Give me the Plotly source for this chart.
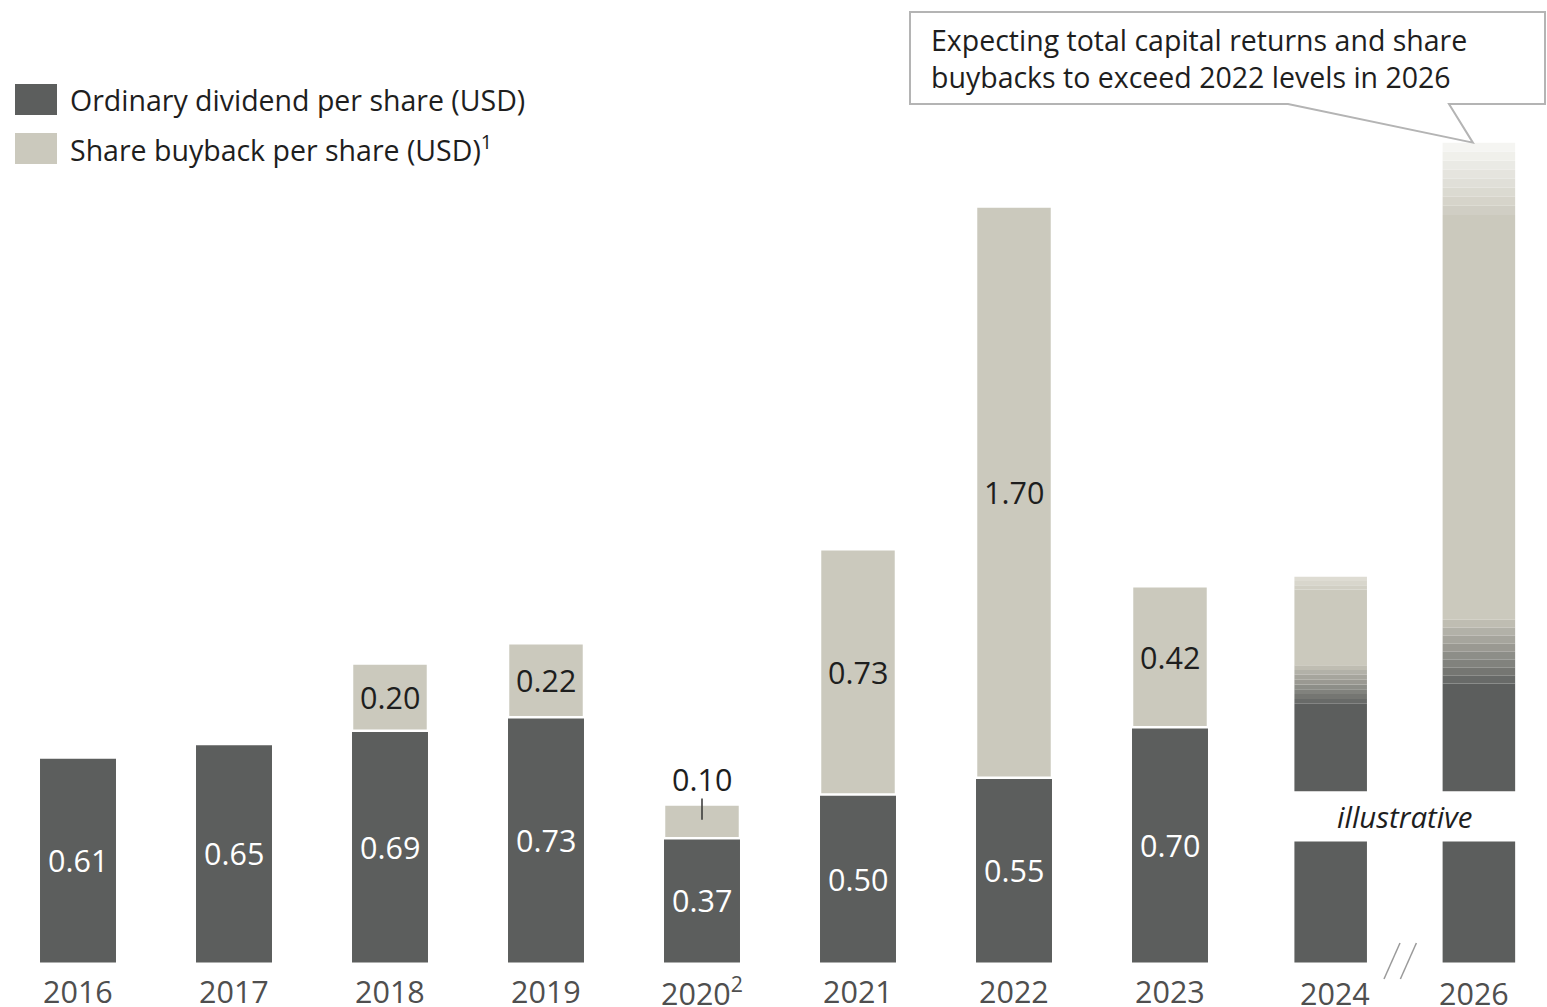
import plotly.graph_objects as go

# ---- data -------------------------------------------------------------
years = ["2016", "2017", "2018", "2019", "2020", "2021", "2022", "2023"]
year_labels = ["2016", "2017", "2018", "2019", "2020<sup>2</sup>", "2021", "2022", "2023"]
dividend = [0.61, 0.65, 0.69, 0.73, 0.37, 0.50, 0.55, 0.70]
buyback = [0.00, 0.00, 0.20, 0.22, 0.10, 0.73, 1.70, 0.42]

# illustrative outlook bars (no stated values, heights are indicative only)
illus_years = ["2024", "2026"]
illus_stub_top = [0.36, 0.36]        # part below the "illustrative" break
illus_upper_base = [0.51, 0.51]      # restart above the break
illus_dividend_top = [0.77, 0.83]
illus_blend_top = [0.885, 1.02]
illus_fade_start = [1.11, 2.225]
illus_total = [1.148, 2.44]

# ---- canvas / scale ----------------------------------------------------
W, H = 1547, 1007
X0, DX = 78.0, 156.0          # first bar centre and slot pitch (px)
BASE_PX, PPU = 962.5, 336.0   # baseline (px) and pixels per USD

DARK = "#5c5e5d"
LIGHT = "#cbc9bd"
TXT = "#1e1e1e"
YEAR_TXT = "#4f4f4f"
FONT = "Open Sans"

slots = list(range(len(years)))
illus_slots = [8.03, 8.98]
BW = 0.487
IBW = 0.465


def xd(px):
    return (px - X0) / DX


def yd(py):
    return (BASE_PX - py) / PPU


def mix(c1, c2, t):
    a = [int(c1[i:i + 2], 16) for i in (1, 3, 5)]
    b = [int(c2[i:i + 2], 16) for i in (1, 3, 5)]
    return "#%02x%02x%02x" % tuple(round(a[k] + (b[k] - a[k]) * t) for k in range(3))


fig = go.Figure()

# historical bars
fig.add_trace(go.Bar(
    x=slots, y=dividend, base=[0] * len(slots), width=BW,
    marker=dict(color=DARK, line=dict(width=0)),
    hoverinfo="skip", showlegend=False,
))
fig.add_trace(go.Bar(
    x=slots, y=buyback, base=dividend, width=BW,
    marker=dict(color=LIGHT, line=dict(color="white", width=2.5)),
    hoverinfo="skip", showlegend=False,
))

# illustrative bars built from stacked bands (dark -> light blend, top fade)
ix, ibase, iy, icol = [], [], [], []


def seg(x, b, t, c):
    ix.append(x)
    ibase.append(b)
    iy.append(t - b)
    icol.append(c)


for k, x in enumerate(illus_slots):
    seg(x, 0, illus_stub_top[k], DARK)
    seg(x, illus_upper_base[k], illus_dividend_top[k], DARK)
    nb = 8
    lo, hi = illus_dividend_top[k], illus_blend_top[k]
    for j in range(nb):
        seg(x, lo + (hi - lo) * j / nb, lo + (hi - lo) * (j + 1) / nb,
            mix(DARK, LIGHT, (j + 1) / (nb + 1)))
    seg(x, hi, illus_fade_start[k], LIGHT)
    nf = 8 if k == 1 else 3
    fend = "#f5f5f2" if k == 1 else "#dedcd3"
    lo, hi = illus_fade_start[k], illus_total[k]
    for j in range(nf):
        seg(x, lo + (hi - lo) * j / nf, lo + (hi - lo) * (j + 1) / nf,
            mix(LIGHT, fend, (j + 1) / nf))

fig.add_trace(go.Bar(
    x=ix, y=iy, base=ibase, width=IBW,
    marker=dict(color=icol, line=dict(width=0)),
    hoverinfo="skip", showlegend=False,
))

ann = []
shapes = []

# value labels
VAL_SIZE = 30.5
for i, x in enumerate(slots):
    d, b = dividend[i], buyback[i]
    ann.append(dict(x=x, y=d / 2, text=f"{d:.2f}", showarrow=False,
                    font=dict(family=FONT, size=VAL_SIZE, color="white")))
    if b <= 0:
        continue
    if b < 0.15:
        top = d + b
        ann.append(dict(x=x, y=top + 0.076, text=f"{b:.2f}", showarrow=False,
                        font=dict(family=FONT, size=VAL_SIZE, color=TXT)))
        shapes.append(dict(type="line", xref="x", yref="y", x0=x, x1=x,
                           y0=top + 0.018, y1=top - 0.045,
                           line=dict(color="#333333", width=1.5)))
    else:
        ann.append(dict(x=x, y=d + b / 2, text=f"{b:.2f}", showarrow=False,
                        font=dict(family=FONT, size=VAL_SIZE, color=TXT)))

# year labels
YEAR_SIZE = 30.5
for x, lab in zip(slots, year_labels):
    ann.append(dict(x=x, y=yd(991), text=lab, showarrow=False,
                    font=dict(family=FONT, size=YEAR_SIZE, color=YEAR_TXT)))
for x, lab in zip(illus_slots, illus_years):
    ann.append(dict(x=x + (0.03 if lab == "2024" else -0.03), y=yd(993), text=lab,
                    showarrow=False, font=dict(family=FONT, size=YEAR_SIZE, color=YEAR_TXT)))

# "illustrative" break label
ann.append(dict(x=sum(illus_slots) / 2, y=(illus_stub_top[0] + illus_upper_base[0]) / 2,
                text="<i>illustrative</i>", showarrow=False,
                font=dict(family=FONT, size=29.5, color=TXT)))

# axis-break marks between 2024 and 2026
for off in (0.0, 0.105):
    shapes.append(dict(type="line", xref="x", yref="y",
                       x0=xd(1384) + off, y0=yd(979), x1=xd(1400) + off, y1=yd(943),
                       line=dict(color="#9a9a9a", width=1.5)))

# legend
for k, (col, lab) in enumerate([(DARK, "Ordinary dividend per share (USD)"),
                                 (LIGHT, "Share buyback per share (USD)<sup>1</sup>")]):
    top = 84 + 49 * k
    shapes.append(dict(type="rect", xref="paper", yref="paper",
                       x0=15 / W, x1=57 / W, y0=1 - top / H, y1=1 - (top + 31) / H,
                       fillcolor=col, line=dict(width=0)))
    ann.append(dict(xref="paper", yref="paper", x=68 / W, y=1 - (top + 16) / H,
                    xanchor="left", yanchor="middle", text=lab, showarrow=False,
                    font=dict(family=FONT, size=28.5, color=TXT)))

# callout pointing at the top of the 2026 bar
tip_x = illus_slots[1] - 6 / DX
tip_y = illus_total[1]
pts = [(910, 12), (1545, 12), (1545, 104), (1449, 104), None, (1288, 104), (910, 104)]
path = []
for p in pts:
    if p is None:
        path.append(f"L {tip_x},{tip_y}")
    else:
        path.append(("M " if not path else "L ") + f"{xd(p[0])},{yd(p[1])}")
path.append("Z")
shapes.append(dict(type="path", xref="x", yref="y", path=" ".join(path),
                   fillcolor="white", line=dict(color="#b4b4b4", width=2)))
for txt, py in [("Expecting total capital returns and share", 40),
                ("buybacks to exceed 2022 levels in 2026", 77)]:
    ann.append(dict(x=xd(929), y=yd(py), xanchor="left", yanchor="middle",
                    text=txt, showarrow=False,
                    font=dict(family=FONT, size=28.5, color=TXT)))

fig.update_layout(
    width=W, height=H,
    margin=dict(l=0, r=0, t=0, b=0),
    paper_bgcolor="white", plot_bgcolor="white",
    barmode="overlay",
    xaxis=dict(range=[xd(0), xd(W)], visible=False, fixedrange=True),
    yaxis=dict(range=[yd(H), yd(0)], visible=False, fixedrange=True),
    annotations=ann, shapes=shapes,
)

fig.write_html("out.html")
